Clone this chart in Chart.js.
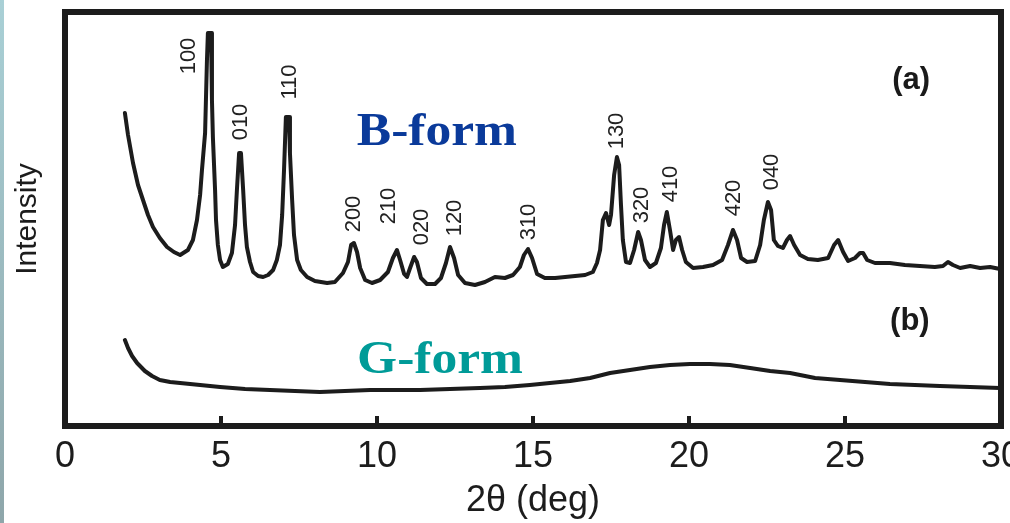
<!DOCTYPE html>
<html>
<head>
<meta charset="utf-8">
<script src="https://cdn.jsdelivr.net/npm/chart.js@4.4.0/dist/chart.umd.min.js"></script>
<style>
  html, body { margin: 0; padding: 0; background: #fff; }
  #wrap { width: 1010px; height: 523px; }
</style>
</head>
<body>
<div id="wrap"><canvas id="myChart" width="1010" height="523"></canvas></div>
<script>
// B-form trace (a): 2theta and intensity (arb. units)
const bTheta = [1.92, 2.02, 2.18, 2.34, 2.50, 2.66, 2.82, 3.04, 3.27, 3.49, 3.69, 3.94, 4.10, 4.23, 4.33, 4.39, 4.49, 4.55, 4.58, 4.68, 4.71, 4.74, 4.81, 4.84, 4.90, 4.97, 5.06, 5.22, 5.35, 5.45, 5.51, 5.58, 5.64, 5.71, 5.77, 5.83, 5.93, 6.03, 6.19, 6.35, 6.51, 6.67, 6.79, 6.89, 6.96, 7.02, 7.08, 7.18, 7.21, 7.28, 7.34, 7.44, 7.56, 7.76, 8.01, 8.40, 8.65, 8.91, 9.07, 9.17, 9.26, 9.36, 9.46, 9.62, 9.84, 10.10, 10.35, 10.51, 10.64, 10.74, 10.87, 10.96, 11.06, 11.19, 11.28, 11.41, 11.60, 11.86, 12.05, 12.21, 12.34, 12.47, 12.60, 12.82, 13.14, 13.46, 13.78, 14.10, 14.36, 14.58, 14.71, 14.84, 14.97, 15.13, 15.38, 15.71, 16.03, 16.35, 16.67, 16.92, 17.05, 17.15, 17.24, 17.34, 17.44, 17.50, 17.60, 17.69, 17.76, 17.82, 17.88, 17.98, 18.11, 18.24, 18.37, 18.46, 18.59, 18.75, 18.94, 19.10, 19.20, 19.29, 19.39, 19.49, 19.58, 19.68, 19.78, 19.90, 20.13, 20.45, 20.77, 21.06, 21.25, 21.41, 21.54, 21.67, 21.86, 22.12, 22.28, 22.40, 22.53, 22.63, 22.72, 22.85, 23.01, 23.14, 23.24, 23.37, 23.56, 23.81, 24.13, 24.46, 24.65, 24.78, 24.94, 25.10, 25.32, 25.48, 25.58, 25.71, 25.96, 26.44, 26.92, 27.40, 27.88, 28.14, 28.30, 28.46, 28.69, 29.01, 29.33, 29.65, 29.97];
const bInt = [313, 291, 263, 241, 226, 211, 199, 188, 179, 174, 171, 176, 186, 206, 231, 256, 293, 366, 393, 393, 326, 289, 236, 206, 181, 166, 159, 162, 173, 201, 236, 273, 273, 236, 201, 179, 164, 154, 150, 149, 151, 156, 166, 181, 211, 256, 309, 309, 273, 226, 191, 166, 156, 149, 145, 143, 144, 153, 164, 181, 183, 174, 158, 146, 143, 146, 154, 168, 176, 166, 152, 149, 158, 169, 164, 148, 142, 142, 148, 163, 179, 168, 151, 143, 141, 144, 149, 148, 151, 159, 171, 177, 168, 152, 148, 148, 149, 150, 151, 154, 163, 176, 206, 213, 201, 211, 251, 269, 261, 221, 186, 164, 163, 176, 194, 186, 166, 159, 163, 178, 201, 214, 196, 176, 186, 189, 176, 164, 158, 159, 161, 166, 181, 196, 186, 168, 164, 165, 181, 206, 224, 216, 186, 180, 178, 186, 190, 181, 171, 167, 166, 168, 181, 186, 174, 165, 168, 173, 173, 166, 163, 163, 161, 160, 159, 160, 164, 161, 158, 160, 158, 159, 157];

// G-form trace (b)
const gTheta = [1.92, 2.02, 2.15, 2.31, 2.56, 2.79, 3.04, 3.37, 3.69, 4.33, 4.97, 5.77, 6.57, 7.37, 8.17, 8.97, 9.78, 10.58, 11.38, 12.34, 13.30, 14.10, 14.90, 15.54, 16.19, 16.83, 17.47, 18.11, 18.75, 19.39, 20.03, 20.67, 21.31, 21.96, 22.60, 23.24, 24.04, 24.84, 25.64, 26.44, 27.24, 28.04, 29.01, 29.97];
const gInt = [86, 78, 70, 63, 55, 50, 46, 44, 43, 41, 39, 37, 36, 35, 34, 35, 36, 36, 36, 37, 38, 39, 41, 43, 45, 48, 53, 56, 59, 61, 62, 62, 61, 58, 55, 53, 48, 46, 44, 42, 41, 40, 39, 38];

// reflection labels, placed at (theta, intensity) of the text centre
const peakNames = ["100", "010", "110", "200", "210", "020", "120", "310", "130", "320", "410", "420", "040"];
const peakTheta = [3.97, 5.64, 7.21, 9.26, 10.38, 11.44, 12.50, 14.87, 17.69, 18.49, 19.42, 21.44, 22.66];
const peakLabelInt = [370, 304, 344, 212, 220, 199, 208, 204, 295, 221, 242, 228, 254];

const xTicks = [0, 5, 10, 15, 20, 25, 30];

function toPoints(xs, ys) {
  return xs.map(function (x, i) {
    return { x: x, y: ys[i] };
  });
}

const ink = "#1c1c1c";

// white page, blue strip on the left, frame and inward ticks
const framePlugin = {
  id: "frame",
  beforeDraw(chart) {
    const ctx = chart.ctx;
    ctx.save();
    ctx.fillStyle = "#fff";
    ctx.fillRect(0, 0, chart.width, chart.height);
    const g = ctx.createLinearGradient(0, 0, 0, chart.height);
    g.addColorStop(0, "#a9d0d6");
    g.addColorStop(1, "#8ea6aa");
    ctx.fillStyle = g;
    ctx.fillRect(0, 0, 4, chart.height);
    ctx.restore();
  },
  afterDatasetsDraw(chart) {
    const ctx = chart.ctx;
    const a = chart.chartArea;
    const xs = chart.scales.x;
    ctx.save();
    ctx.strokeStyle = ink;
    ctx.lineWidth = 4;
    xTicks.forEach(function (t) {
      const px = xs.getPixelForValue(t);
      ctx.beginPath();
      ctx.moveTo(px, a.bottom);
      ctx.lineTo(px, a.bottom - 10);
      ctx.stroke();
    });
    ctx.lineWidth = 6;
    ctx.strokeRect(a.left, a.top, a.right - a.left, a.bottom - a.top);
    ctx.restore();
  },
};

// hkl labels, (a)/(b) and the form names
const labelPlugin = {
  id: "labels",
  afterDraw(chart) {
    const ctx = chart.ctx;
    const xs = chart.scales.x;
    const ys = chart.scales.y;
    ctx.save();
    ctx.fillStyle = "#222";
    ctx.font = "22px 'Liberation Sans', Arial, sans-serif";
    ctx.textAlign = "center";
    ctx.textBaseline = "middle";
    peakNames.forEach(function (name, i) {
      ctx.save();
      ctx.translate(xs.getPixelForValue(peakTheta[i]), ys.getPixelForValue(peakLabelInt[i]));
      ctx.rotate(-Math.PI / 2);
      ctx.fillText(name, 0, 0);
      ctx.restore();
    });

    ctx.font = "bold 31px 'Liberation Sans', Arial, sans-serif";
    ctx.fillStyle = "#1a1a1a";
    ctx.fillText("(a)", xs.getPixelForValue(27.12), ys.getPixelForValue(346));
    ctx.fillText("(b)", xs.getPixelForValue(27.08), ys.getPixelForValue(105));

    ctx.textBaseline = "alphabetic";
    ctx.font = "bold 46px 'Liberation Serif', 'Times New Roman', serif";
    ctx.save();
    ctx.translate(xs.getPixelForValue(11.92), ys.getPixelForValue(281));
    ctx.scale(1.12, 1);
    ctx.fillStyle = "#0a3a9a";
    ctx.fillText("B-form", 0, 0);
    ctx.restore();
    ctx.save();
    ctx.translate(xs.getPixelForValue(12.02), ys.getPixelForValue(53));
    ctx.scale(1.12, 1);
    ctx.fillStyle = "#009b98";
    ctx.fillText("G-form", 0, 0);
    ctx.restore();
    ctx.restore();
  },
};

const config = {
  type: "line",
  data: {
    datasets: [
      {
        label: "B-form",
        data: toPoints(bTheta, bInt),
        borderColor: ink,
        borderWidth: 4,
        pointRadius: 0,
        tension: 0,
        borderJoinStyle: "round",
        borderCapStyle: "round",
      },
      {
        label: "G-form",
        data: toPoints(gTheta, gInt),
        borderColor: ink,
        borderWidth: 4,
        pointRadius: 0,
        tension: 0,
        borderJoinStyle: "round",
        borderCapStyle: "round",
      },
    ],
  },
  options: {
    responsive: false,
    animation: false,
    layout: {
      padding: { left: 0, top: 12, right: 9, bottom: 0 },
    },
    scales: {
      x: {
        type: "linear",
        min: 0,
        max: 30,
        afterFit(scale) {
          scale.height = 97;
          scale.paddingLeft = 0;
          scale.paddingRight = 0;
        },
        afterBuildTicks(scale) {
          scale.ticks = xTicks.map(function (v) {
            return { value: v };
          });
        },
        grid: { display: false, drawTicks: false },
        border: { display: false },
        ticks: {
          color: ink,
          padding: 9,
          maxRotation: 0,
          font: { size: 36, family: "'Liberation Sans', Arial, sans-serif" },
        },
        title: {
          display: true,
          text: "2θ (deg)",
          color: ink,
          padding: 0,
          font: { size: 36, family: "'Liberation Sans', Arial, sans-serif" },
        },
      },
      y: {
        type: "linear",
        min: 0,
        max: 414,
        afterFit(scale) {
          scale.width = 65;
        },
        grid: { display: false, drawTicks: false },
        border: { display: false },
        ticks: { display: false },
        title: {
          display: true,
          text: "Intensity",
          color: ink,
          padding: { top: 10, bottom: 0 },
          font: { size: 30, family: "'Liberation Sans', Arial, sans-serif" },
        },
      },
    },
    plugins: {
      legend: { display: false },
      tooltip: { enabled: false },
    },
  },
  plugins: [framePlugin, labelPlugin],
};

const myChart = new Chart(document.getElementById("myChart"), config);
</script>
</body>
</html>
